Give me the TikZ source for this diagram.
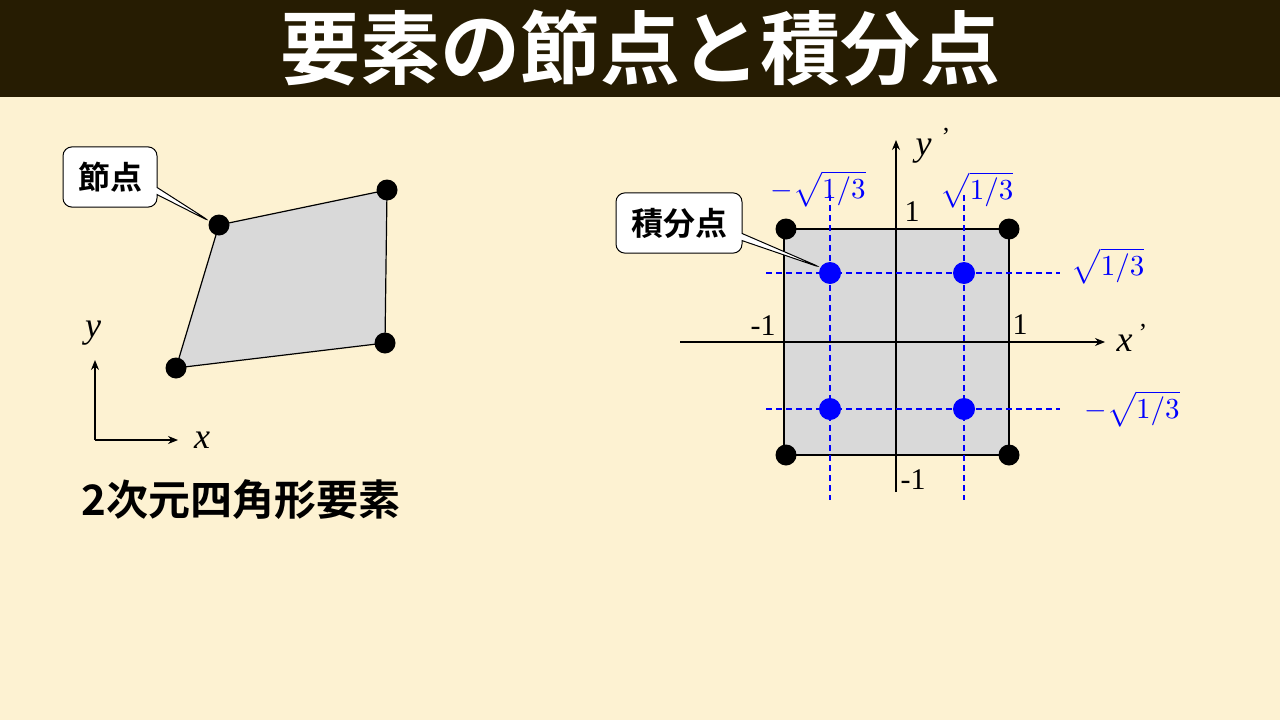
\documentclass[tikz,border=0pt]{standalone}
\usepackage{fontspec}
\setmainfont{Liberation Serif}
\newfontfamily\cjk{Noto Sans CJK JP}[BoldFont={* Bold}]
\usetikzlibrary{shapes.callouts,arrows.meta}
\definecolor{bg}{HTML}{FDF2D2}
\definecolor{bar}{HTML}{261C02}
\definecolor{quad}{HTML}{D9D9D9}
\tikzset{
 dot/.style={circle,fill=black,inner sep=0pt,minimum size=21pt},
 bdot/.style={circle,fill=blue,inner sep=0pt,minimum size=22pt},
 dl/.style={blue,dash pattern=on 6pt off 4pt,line width=1.1pt},
 ax/.style={line width=1.2pt,-{Stealth[length=10pt,width=8pt]}},
 call/.style={draw,line width=1pt,fill=white,rounded corners=9pt,font=\cjk\bfseries\fontsize{32}{36}\selectfont,inner xsep=15pt,inner ysep=15pt},
 lab/.style={font=\fontsize{30}{34}\selectfont},
 ilab/.style={font=\itshape\fontsize{36}{40}\selectfont},
 blab/.style={text=blue,inner sep=0pt}
}
\newcommand{\mybigm}[1]{\scalebox{2.9}{$#1$}}
\begin{document}
\begin{tikzpicture}[x=1pt,y=-1pt]
\fill[bg] (0,0) rectangle (1280,720);
\fill[bar] (0,0) rectangle (1280,97);
\node[text=white,font=\cjk\bfseries\fontsize{80}{86}\selectfont] (title) at (640,48) {要素の節点と積分点};
% left quad
\coordinate (q1) at (219,225); \coordinate (q2) at (387,190);
\coordinate (q3) at (385,343); \coordinate (q4) at (176,368);
\draw[fill=quad,line width=1.2pt] (q1)--(q2)--(q3)--(q4)--cycle;
\foreach \p in {q1,q2,q3,q4} \node[dot] at (\p) {};
\node[call,callout absolute pointer={(211,222)},rectangle callout] (c1) at (110,177) {節点};
\coordinate (o) at (95,440);
\draw[ax] (o)--(95,360);
\draw[ax] (o)--(178,440);
\node[ilab] (ly) at (93,333) {y};
\node[ilab] (lx) at (202,440) {x};
\node[anchor=west,font=\cjk\bfseries\fontsize{42}{46}\selectfont] (cap) at (78,500) {2次元四角形要素};
% right
\draw[fill=quad,line width=1.2pt] (784,229) rectangle (1009,455);
\draw[ax] (680,342)--(1105,342);
\draw[ax] (896,492)--(896,140);
\draw[dl] (830,195)--(830,500);
\draw[dl] (964,195)--(964,500);
\draw[dl] (766,273)--(1060,273);
\draw[dl] (766,409)--(1060,409);
\foreach \p in {(786,229),(1009,229),(786,455),(1009,455)} \node[dot] at \p {};
\foreach \p in {(830,273),(964,273),(830,409),(964,409)} \node[bdot] at \p {};
\node[ilab,inner sep=0pt] (yp) at (933,146) {y\;\raisebox{10pt}{\upshape\fontsize{26}{26}\selectfont ’}};
\node[ilab] (xp) at (1132,338) {x\,\raisebox{10pt}{\upshape\fontsize{26}{26}\selectfont ’}};
\node[lab] at (912,212) {1};
\node[lab] at (763,326) {-1};
\node[lab] at (1020,325) {1};
\node[lab] at (913,480) {-1};
\node[blab] at (818,189) {\mybigm{-\sqrt{1/3}}};
\node[blab] at (977,190) {\mybigm{\sqrt{1/3}}};
\node[blab] at (1108,266) {\mybigm{\sqrt{1/3}}};
\node[blab] at (1132,409) {\mybigm{-\sqrt{1/3}}};
\node[call,callout absolute pointer={(822,268)},rectangle callout] (c2) at (679,223) {積分点};
\end{tikzpicture}
\end{document}
